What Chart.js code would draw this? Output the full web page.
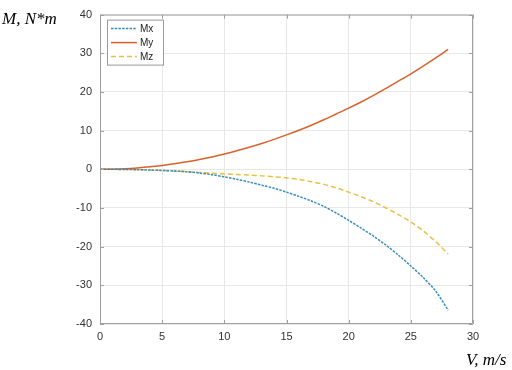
<!DOCTYPE html>
<html lang="en">
<head>
  <meta charset="UTF-8">
  <title>M(V)</title>
  <style>
    body { margin: 0; padding: 0; background: #fff; }
    #wrap { width: 512px; height: 370px; position: relative; }
  </style>
</head>
<body>
  <div id="wrap"><canvas id="chart" width="512" height="370"></canvas></div>

  <script src="https://cdn.jsdelivr.net/npm/chart.js"></script>
  <script>
    // speed, m/s
    const speeds = [0, 1, 2, 3, 4, 5, 6, 7, 8, 9, 10, 11, 12, 13, 14, 15, 16, 17, 18, 19, 20, 21, 22, 23, 24, 25, 26, 27, 28];
    // moments, N*m
    const mx = [0, -0.01, -0.04, -0.1, -0.18, -0.3, -0.45, -0.65, -0.95, -1.4, -1.95, -2.6, -3.3, -4.1, -4.9, -5.9, -7.0, -8.2, -9.6, -11.3, -13.2, -15.2, -17.3, -19.6, -22.2, -25.0, -28.0, -31.5, -36.4];
    const my = [0, 0.04, 0.16, 0.36, 0.63, 0.99, 1.42, 1.94, 2.53, 3.2, 3.95, 4.78, 5.69, 6.68, 7.74, 8.89, 10.1, 11.4, 12.8, 14.3, 15.8, 17.4, 19.1, 20.9, 22.8, 24.7, 26.7, 28.8, 31.0];
    const mz = [0, -0.01, -0.05, -0.1, -0.2, -0.3, -0.45, -0.6, -0.8, -1.0, -1.2, -1.35, -1.5, -1.7, -1.95, -2.2, -2.6, -3.2, -3.9, -4.8, -5.9, -7.1, -8.4, -10.0, -11.7, -13.6, -15.9, -18.7, -21.9];
    const seriesNames = ["Mx", "My", "Mz"];
    const xTicks = [0, 5, 10, 15, 20, 25, 30];
    const yTicks = [-40, -30, -20, -10, 0, 10, 20, 30, 40];

    const toPts = (ys) => ys.map((y, i) => ({ x: speeds[i], y: y }));

    // box, inner ticks, axis names and legend like the matlab figure
    const matlabLook = {
      id: "matlabLook",
      afterDraw(chart) {
        const ctx = chart.ctx;
        const a = chart.chartArea;
        const xs = chart.scales.x, ys = chart.scales.y;
        ctx.save();
        ctx.strokeStyle = "#a0a0a0";
        ctx.lineWidth = 1;
        ctx.beginPath();
        ctx.rect(a.left + 0.5, a.top + 0.5, a.right - a.left - 1, a.bottom - a.top - 1);
        // small ticks pointing inside
        yTicks.forEach((v) => {
          const py = Math.round(ys.getPixelForValue(v)) + 0.5;
          ctx.moveTo(a.left, py); ctx.lineTo(a.left + 4, py);
          ctx.moveTo(a.right, py); ctx.lineTo(a.right - 4, py);
        });
        xTicks.forEach((v) => {
          const px = Math.round(xs.getPixelForValue(v)) + 0.5;
          ctx.moveTo(px, a.bottom); ctx.lineTo(px, a.bottom - 4);
          ctx.moveTo(px, a.top); ctx.lineTo(px, a.top + 4);
        });
        ctx.stroke();

        // axis names
        ctx.fillStyle = "#000";
        ctx.font = "italic 17px 'Liberation Serif'";
        ctx.textBaseline = "alphabetic";
        ctx.textAlign = "left";
        ctx.fillText("M, N*m", 2, 24);
        ctx.fillText("V, m/s", 466, 365);

        // legend
        const lx = a.left + 7, ly = a.top + 5, lw = 56, lh = 45;
        ctx.fillStyle = "#fff";
        ctx.fillRect(lx, ly, lw, lh);
        ctx.strokeStyle = "#9a9a9a";
        ctx.strokeRect(lx + 0.5, ly + 0.5, lw, lh);
        ctx.font = "10px 'Liberation Sans'";
        ctx.textBaseline = "middle";
        chart.data.datasets.forEach((ds, i) => {
          const yy = ly + 9 + i * 14;
          ctx.strokeStyle = ds.borderColor;
          ctx.lineWidth = ds.borderWidth;
          ctx.setLineDash(ds.borderDash || []);
          ctx.beginPath();
          ctx.moveTo(lx + 4, yy); ctx.lineTo(lx + 30, yy);
          ctx.stroke();
          ctx.setLineDash([]);
          ctx.fillStyle = "#222";
          ctx.fillText(ds.label, lx + 33, yy + 1);
        });
        ctx.restore();
      }
    };

    new Chart(document.getElementById("chart"), {
      type: "line",
      data: {
        datasets: [
          { label: seriesNames[0], data: toPts(mx), borderColor: "#3a8dbb", borderWidth: 1.5, borderDash: [2.5, 1.2] },
          { label: seriesNames[1], data: toPts(my), borderColor: "#d9622b", borderWidth: 1.5 },
          { label: seriesNames[2], data: toPts(mz), borderColor: "#e6c04a", borderWidth: 1.5, borderDash: [5, 3] },
        ],
      },
      options: {
        responsive: false,
        animation: false,
        layout: { padding: { left: 0, right: 39, top: 13, bottom: 0 } },
        elements: { point: { radius: 0 }, line: { tension: 0.3, fill: false } },
        plugins: { legend: { display: false }, tooltip: { enabled: false } },
        scales: {
          x: {
            type: "linear", min: 0, max: 30,
            afterBuildTicks: (s) => { s.ticks = xTicks.map((v) => ({ value: v })); },
            afterFit: (s) => { s.height = 46; },
            grid: { color: "#e8e8e8", drawTicks: false },
            border: { display: false },
            ticks: { color: "#333", font: { family: "'Liberation Sans'", size: 11 }, padding: 6, maxRotation: 0 },
          },
          y: {
            type: "linear", min: -40, max: 40,
            afterBuildTicks: (s) => { s.ticks = yTicks.map((v) => ({ value: v })); },
            afterFit: (s) => { s.width = 100; },
            grid: { color: "#e8e8e8", drawTicks: false },
            border: { display: false },
            ticks: { color: "#333", font: { family: "'Liberation Sans'", size: 11 }, padding: 8 },
          },
        },
      },
      plugins: [matlabLook],
    });
  </script>
</body>
</html>
